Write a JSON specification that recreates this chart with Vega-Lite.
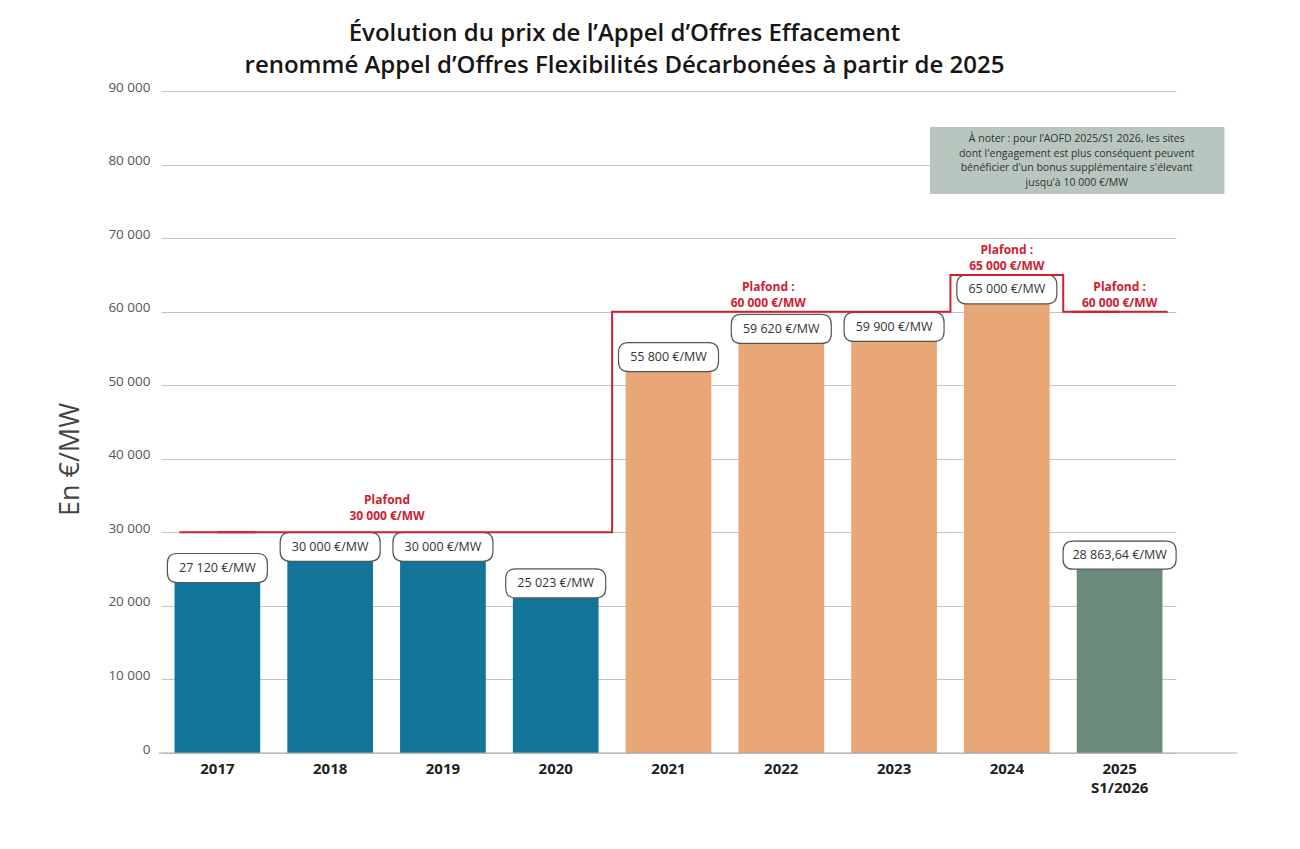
{
  "$schema": "https://vega.github.io/schema/vega-lite/v6.json",
  "width": 1015,
  "height": 662,
  "autosize": "none",
  "padding": {"left": 161, "top": 91, "right": 124, "bottom": 96},
  "background": "#ffffff",
  "config": {"view": {"stroke": null}, "font": "Open Sans"},
  "title": {
    "text": ["Évolution du prix de l’Appel d’Offres Effacement", "renommé Appel d’Offres Flexibilités Décarbonées à partir de 2025"],
    "font": "Open Sans",
    "fontSize": 24,
    "fontWeight": 600,
    "color": "#161616",
    "anchor": "middle",
    "frame": "group",
    "dx": -44,
    "offset": 2,
    "lineHeight": 32
  },
  "datasets": {
    "prix": [
      {"annee": "2017", "prix": 27120, "etiquette": "27 120 €/MW", "groupe": "AOE 2017–2020"},
      {"annee": "2018", "prix": 30000, "etiquette": "30 000 €/MW", "groupe": "AOE 2017–2020"},
      {"annee": "2019", "prix": 30000, "etiquette": "30 000 €/MW", "groupe": "AOE 2017–2020"},
      {"annee": "2020", "prix": 25023, "etiquette": "25 023 €/MW", "groupe": "AOE 2017–2020"},
      {"annee": "2021", "prix": 55800, "etiquette": "55 800 €/MW", "groupe": "AOE 2021–2024"},
      {"annee": "2022", "prix": 59620, "etiquette": "59 620 €/MW", "groupe": "AOE 2021–2024"},
      {"annee": "2023", "prix": 59900, "etiquette": "59 900 €/MW", "groupe": "AOE 2021–2024"},
      {"annee": "2024", "prix": 65000, "etiquette": "65 000 €/MW", "groupe": "AOE 2021–2024"},
      {"annee": "2025 S1/2026", "prix": 28863.64, "etiquette": "28 863,64 €/MW", "groupe": "AOFD 2025–S1 2026"}
    ],
    "plafonds": [
      {"annee": "2017", "plafond": 30000},
      {"annee": "2018", "plafond": 30000},
      {"annee": "2019", "plafond": 30000},
      {"annee": "2020", "plafond": 30000},
      {"annee": "2021", "plafond": 60000},
      {"annee": "2022", "plafond": 60000},
      {"annee": "2023", "plafond": 60000},
      {"annee": "2024", "plafond": 65000},
      {"annee": "2025 S1/2026", "plafond": 60000}
    ],
    "libelles": [
      {"annee": "2019", "plafond": 30000, "texte": "Plafond\n30 000 €/MW"},
      {"annee": "2022", "plafond": 60000, "texte": "Plafond :\n60 000 €/MW"},
      {"annee": "2024", "plafond": 65000, "texte": "Plafond :\n65 000 €/MW"},
      {"annee": "2025 S1/2026", "plafond": 60000, "texte": "Plafond :\n60 000 €/MW"}
    ],
    "note": [
      {"annee": "2025 S1/2026", "haut": 85100, "bas": 76000, "centre": 80560, "texte": "À noter : pour l’AOFD 2025/S1 2026, les sites\ndont l'engagement est plus conséquent peuvent\nbénéficier d'un bonus supplémentaire s'élevant\njusqu'à 10 000 €/MW"}
    ]
  },
  "layer": [
    {
      "data": {"name": "prix"},
      "mark": {"type": "bar"},
      "encoding": {
        "x": {
          "field": "annee", "type": "nominal",
          "scale": {"domain": ["2017", "2018", "2019", "2020", "2021", "2022", "2023", "2024", "2025 S1/2026"], "paddingInner": 0.24, "paddingOuter": 0.12},
          "axis": {
            "title": null, "domain": false, "ticks": false, "labelAngle": 0,
            "labelFont": "Open Sans", "labelFontSize": 15, "labelFontWeight": "bold", "labelColor": "#1e1e1e",
            "labelPadding": 8, "labelLineHeight": 19,
            "labelExpr": "datum.value == '2025 S1/2026' ? ['2025', 'S1/2026'] : datum.value"
          }
        },
        "y": {
          "field": "prix", "type": "quantitative",
          "scale": {"domain": [0, 90000], "nice": false},
          "axis": {
            "title": "En €/MW",
            "values": [0, 10000, 20000, 30000, 40000, 50000, 60000, 70000, 80000, 90000],
            "grid": true, "gridColor": "#c4c4c4", "gridWidth": 1,
            "domain": false, "ticks": false,
            "labelPadding": 11, "labelFont": "Open Sans", "labelFontSize": 13.5, "labelColor": "#555555",
            "labelBaseline": "alphabetic",
            "labelExpr": "replace(format(datum.value, ','), ',', ' ')",
            "titleFont": "Open Sans", "titleFontSize": 27, "titleFontWeight": "normal", "titleColor": "#444444",
            "titleAngle": -90, "titleX": -91, "titleY": 368, "titleAlign": "center", "titleBaseline": "middle"
          }
        },
        "color": {
          "field": "groupe", "type": "nominal",
          "scale": {"domain": ["AOE 2017–2020", "AOE 2021–2024", "AOFD 2025–S1 2026"], "range": ["#13759a", "#e9a677", "#6b8a7c"]},
          "legend": null
        }
      }
    },
    {
      "data": {"name": "prix"},
      "transform": [{"filter": "datum.annee != '2025 S1/2026'"}],
      "mark": {
        "type": "point",
        "shape": "M -0.8,-0.29 L 0.8,-0.29 Q 1,-0.29 1,-0.09 L 1,0.09 Q 1,0.29 0.8,0.29 L -0.8,0.29 Q -1,0.29 -1,0.09 L -1,-0.09 Q -1,-0.29 -0.8,-0.29 Z",
        "size": 10000, "filled": true, "fill": "#ffffff", "stroke": "#555555", "strokeWidth": 1.2, "opacity": 1, "yOffset": 14.5
      },
      "encoding": {
        "x": {"field": "annee", "type": "nominal"},
        "y": {"field": "prix", "type": "quantitative"}
      }
    },
    {
      "data": {"name": "prix"},
      "transform": [{"filter": "datum.annee == '2025 S1/2026'"}],
      "mark": {
        "type": "point",
        "shape": "M -0.93,-0.28 L 0.93,-0.28 Q 1.13,-0.28 1.13,-0.08 L 1.13,0.08 Q 1.13,0.28 0.93,0.28 L -0.93,0.28 Q -1.13,0.28 -1.13,0.08 L -1.13,-0.08 Q -1.13,-0.28 -0.93,-0.28 Z",
        "size": 10000, "filled": true, "fill": "#ffffff", "stroke": "#555555", "strokeWidth": 1.2, "opacity": 1, "yOffset": 14.5
      },
      "encoding": {
        "x": {"field": "annee", "type": "nominal"},
        "y": {"field": "prix", "type": "quantitative"}
      }
    },
    {
      "data": {"name": "prix"},
      "mark": {"type": "text", "font": "Open Sans", "fontSize": 12.5, "color": "#333333", "baseline": "middle", "align": "center", "dy": 14.5},
      "encoding": {
        "x": {"field": "annee", "type": "nominal"},
        "y": {"field": "prix", "type": "quantitative"},
        "text": {"field": "etiquette"}
      }
    },
    {
      "data": {"name": "plafonds"},
      "mark": {"type": "line", "interpolate": "step", "color": "#d0202e", "strokeWidth": 2},
      "encoding": {
        "x": {"field": "annee", "type": "nominal"},
        "y": {"field": "plafond", "type": "quantitative"}
      }
    },
    {
      "data": {"name": "plafonds"},
      "transform": [{"filter": "datum.annee == '2017' || datum.annee == '2025 S1/2026'"}],
      "mark": {"type": "tick", "color": "#d0202e", "thickness": 2, "opacity": 1},
      "encoding": {
        "x": {"field": "annee", "type": "nominal"},
        "y": {"field": "plafond", "type": "quantitative"},
        "size": {"condition": {"test": "datum.annee == '2017'", "value": 76}, "value": 96}
      }
    },
    {
      "data": {"name": "libelles"},
      "transform": [{"filter": "datum.annee == '2019'"}],
      "mark": {"type": "text", "font": "Open Sans", "fontSize": 12, "fontWeight": "bold", "color": "#d0202e", "align": "center", "baseline": "bottom", "lineBreak": "\n", "lineHeight": 16, "dx": -13, "dy": -25},
      "encoding": {
        "x": {"field": "annee", "type": "nominal", "bandPosition": 0},
        "y": {"field": "plafond", "type": "quantitative"},
        "text": {"field": "texte"}
      }
    },
    {
      "data": {"name": "libelles"},
      "transform": [{"filter": "datum.annee == '2022'"}],
      "mark": {"type": "text", "font": "Open Sans", "fontSize": 12, "fontWeight": "bold", "color": "#d0202e", "align": "center", "baseline": "bottom", "lineBreak": "\n", "lineHeight": 16, "dx": -13, "dy": -18},
      "encoding": {
        "x": {"field": "annee", "type": "nominal"},
        "y": {"field": "plafond", "type": "quantitative"},
        "text": {"field": "texte"}
      }
    },
    {
      "data": {"name": "libelles"},
      "transform": [{"filter": "datum.annee == '2024' || datum.annee == '2025 S1/2026'"}],
      "mark": {"type": "text", "font": "Open Sans", "fontSize": 12, "fontWeight": "bold", "color": "#d0202e", "align": "center", "baseline": "bottom", "lineBreak": "\n", "lineHeight": 16, "dy": -18},
      "encoding": {
        "x": {"field": "annee", "type": "nominal"},
        "y": {"field": "plafond", "type": "quantitative"},
        "text": {"field": "texte"}
      }
    },
    {
      "data": {"name": "note"},
      "mark": {"type": "rect", "color": "#b7c6be", "opacity": 1, "xOffset": -34, "x2Offset": 62},
      "encoding": {
        "x": {"datum": "2024", "type": "nominal", "bandPosition": 0},
        "x2": {"datum": "2025 S1/2026", "bandPosition": 1},
        "y": {"field": "haut", "type": "quantitative"},
        "y2": {"field": "bas"}
      }
    },
    {
      "data": {"name": "note"},
      "mark": {"type": "text", "font": "Open Sans", "fontSize": 10.5, "color": "#333333", "align": "center", "baseline": "middle", "lineBreak": "\n", "lineHeight": 14.5, "dy": -21},
      "encoding": {
        "x": {"field": "annee", "type": "nominal", "bandPosition": 0},
        "y": {"field": "centre", "type": "quantitative"},
        "text": {"field": "texte"}
      }
    },
    {
      "data": {"values": [{}]},
      "mark": {"type": "rule", "color": "#aaaaaa", "strokeWidth": 1, "xOffset": -16, "x2Offset": 75},
      "encoding": {
        "x": {"datum": "2017", "type": "nominal", "bandPosition": 0},
        "x2": {"datum": "2025 S1/2026", "bandPosition": 1},
        "y": {"datum": 0, "type": "quantitative"}
      }
    }
  ]
}
